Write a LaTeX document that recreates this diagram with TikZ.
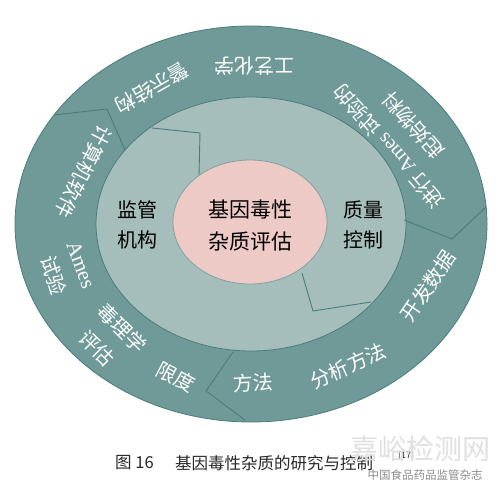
\documentclass[tikz,border=0pt]{standalone}
\usepackage{fontspec}
\setmainfont{Noto Sans CJK SC}
\newfontfamily\latinserif{Liberation Serif}
\definecolor{outerc}{RGB}{112,154,152}
\definecolor{midc}{RGB}{165,189,187}
\definecolor{pinkc}{RGB}{238,202,198}
\definecolor{linec}{RGB}{74,124,122}
\definecolor{capc}{RGB}{40,40,40}
\tikzset{
  ring/.style={line width=0.8pt, draw=linec},
  divider/.style={line width=0.9pt, draw=linec, line join=miter},
  wtxt/.style={text=white, font=\fontsize{20}{32}\selectfont, inner sep=0pt, align=center},
  btxt/.style={text=black, font=\fontsize{20}{30}\selectfont, inner sep=0pt, align=center},
}
\begin{document}
\begin{tikzpicture}[x=1pt,y=-1pt]
\useasboundingbox (0,0) rectangle (500,495);
\fill[white] (0,0) rectangle (500,495);
% rings
\draw[ring, fill=outerc] (251,224) ellipse [x radius=236pt, y radius=198pt];
\draw[ring, fill=midc] (251,224) ellipse [x radius=155pt, y radius=127pt];
\draw[ring, draw=linec!70, fill=pinkc] (250,222) ellipse [x radius=77pt, y radius=62pt];
% dividers
\draw[divider] (54,115) -- (107,109) -- (125,150);
\draw[divider] (152,128) -- (200,133) -- (199,175);
\draw[divider] (486,207) -- (452,239) -- (404,220);
\draw[divider] (302,273) -- (313,311) -- (371,302);
\draw[divider] (233,352) -- (206,391) -- (245,420);
% outer ring texts
\node[wtxt, rotate=180] (t1) at (254,66) {工艺化学};
\node[wtxt, rotate=210] (t2) at (152,88) {警示结构};
\node[wtxt, rotate=131] (t3) at (401,136) {进行 {\latinserif Ames} 试验的\\起始物料};
\node[wtxt, rotate=56] (t4) at (428,286) {开发数据};
\node[wtxt, rotate=24] (t5) at (348,366) {分析方法};
\node[wtxt, rotate=3] (t6) at (253,383) {方法};
\node[wtxt, rotate=-28] (t7) at (176,377) {限度};
\node[wtxt, rotate=-45] (t8) at (122,328) {毒理学};
\node[wtxt, rotate=-45] (t9) at (97,348) {评估};
\node[wtxt, rotate=-70, font=\latinserif\fontsize{21}{25}\selectfont] (t10) at (81,265) {Ames};
\node[wtxt, rotate=-73] (t11) at (54,275) {试验};
\node[wtxt, rotate=243] (t12) at (84,172) {计算机软件};
% middle ring texts
\node[btxt] (m1) at (137,225) {监管\\机构};
\node[btxt] (m2) at (363,225) {质量\\控制};
\node[btxt, font=\fontsize{21}{32}\selectfont] (c) at (250,226) {基因毒性\\杂质评估};
% caption
\node[anchor=west, inner sep=0pt, text=capc, font=\fontsize{16.5}{18}\selectfont] (cap1) at (115,463) {图 16};
\node[anchor=west, inner sep=0pt, text=capc, font=\fontsize{16.5}{18}\selectfont] (cap2) at (175,463) {基因毒性杂质的研究与控制};
\node[anchor=west, inner sep=0pt, text=capc, font=\fontsize{9}{10}\selectfont] (cap3) at (398,456) {[17]};
% watermark
\node[inner sep=0pt, text=black!12, font=\fontsize{28}{30}\selectfont] (wm1) at (420,449) {嘉峪检测网};
\node[inner sep=0pt, text=black!45, font=\fontsize{11.5}{13}\selectfont] (wm2) at (425,475) {中国食品药品监管杂志};
\end{tikzpicture}
\end{document}
